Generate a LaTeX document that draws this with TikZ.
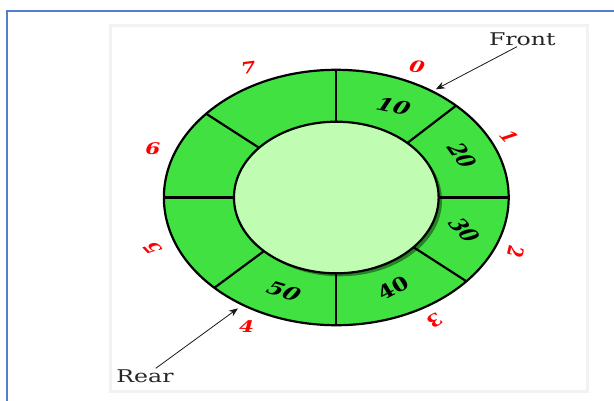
\documentclass[tikz,border=0pt]{standalone}
\usepackage{fontspec}
\setmainfont{DejaVu Serif}
\usetikzlibrary{arrows.meta}
\definecolor{ring}{RGB}{66,225,66}
\definecolor{hole}{RGB}{192,253,178}
\definecolor{holeshadow}{RGB}{30,110,30}
\definecolor{frameblue}{RGB}{84,125,205}
\begin{document}
\begin{tikzpicture}[x=1pt, y=1pt, xscale=1.35,
  cellnum/.style={transform shape, font=\fontsize{18}{18}\selectfont\bfseries\itshape, inner sep=0pt},
  idx/.style={transform shape, text=red, font=\fontsize{16}{16}\selectfont\bfseries\itshape, inner sep=0pt},
  tag/.style={transform shape, text=black!85, font=\fontsize{17.5}{17.5}\selectfont, inner sep=1pt},
  divider/.style={line width=2.2pt},
  arr/.style={-{Stealth[length=9pt,width=7pt]}, line width=0.8pt, black!90}]
\useasboundingbox (-249.1,-202.5) rectangle (205.7,197.5);
\clip (-249.1,-202.5) rectangle (205.7,197.5);
\fill[white] (-249.1,-202.5) rectangle (205.7,197.5);
% outer frame
\draw[frameblue, line width=2pt] (-243.6,-215) rectangle (215,186.5);
% panel
\draw[black!5, line width=3pt, fill=white] (-167.6,-194) rectangle (185.7,172.5);
% ring
\filldraw[fill=ring, draw=black, line width=2.2pt] (0,0) circle[radius=127.7];
\fill[holeshadow, opacity=0.8] (2.5,-3) circle[radius=75.8];
\filldraw[fill=hole, draw=black, line width=2.2pt] (0,0) circle[radius=75.8];
\foreach \a in {0,46,90,139,180,225,270,319}
  \draw[divider] (\a:75.8) -- (\a:127.7);
% cell values
\node[cellnum, rotate=-15] (n10) at (42.4,91.5) {10};
\node[cellnum, rotate=-62] (n20) at (93.1,42.5) {20};
\node[cellnum, rotate=-57] (n30) at (95,-32.5) {30};
\node[cellnum, rotate=35] (n40) at (42.4,-90.8) {40};
\node[cellnum, rotate=-22] (n50) at (-38.8,-93.5) {50};
% indices
\node[idx, rotate=-10] (i0) at (59.8,130.8) {0};
\node[idx, rotate=-55] (i1) at (128.5,60.8) {1};
\node[idx, rotate=-100] (i2) at (133,-54.2) {2};
\node[idx, rotate=-140] (i3) at (72.8,-123) {3};
\node[idx, rotate=0] (i4) at (-66.4,-129.5) {4};
\node[idx, rotate=125] (i5) at (-135.8,-50.8) {5};
\node[idx, rotate=0] (i6) at (-135.8,49.2) {6};
\node[idx, rotate=10] (i7) at (-65,129.5) {7};
% front / rear
\node[tag] (front) at (137.8,158.5) {Front};
\coordinate (ftip) at (73.7,108.2);
\draw[arr] ([xshift=-4pt]front.south) -- (ftip);
\node[tag] (rear) at (-141.7,-178.5) {Rear};
\coordinate (rtip) at (-72.8,-110.8);
\draw[arr] ([xshift=8pt]rear.north) -- (rtip);
\end{tikzpicture}
\end{document}
